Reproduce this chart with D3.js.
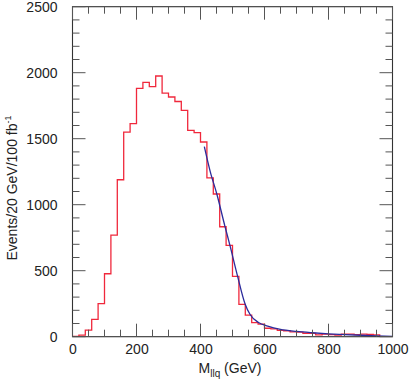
<!DOCTYPE html>
<html><head><meta charset="utf-8">
<script src="https://cdn.jsdelivr.net/npm/d3@7"></script>
<style>body{margin:0;background:#fff}svg{display:block}text{font-family:"Liberation Sans",Arial,sans-serif;fill:#222}</style>
</head><body><div id="chart"></div>
<script>
// bin lower edges (GeV), 20 GeV bins
const binEdges = d3.range(0, 1000, 20);
// histogram contents (events / 20 GeV / 100 fb^-1)
const histValues = [3, 12, 50, 131, 250, 477, 770, 1189, 1550, 1614,
  1881, 1927, 1894, 1975, 1846, 1816, 1782, 1715, 1563, 1546,
  1475, 1203, 1081, 833, 692, 457, 245, 164, 106, 96,
  64, 60, 48, 45, 36, 34, 26, 25, 14, 20,
  16, 12, 20, 20, 15, 20, 18, 14, 0, 0];
// fit curve
const fitX = [412, 430, 451, 476, 492, 516, 539, 555, 581, 610, 650, 700, 750, 800, 850, 900, 950, 1000];
const fitY = [1440, 1255, 1081, 840, 692, 457, 250, 168, 108, 80, 55, 40, 30, 22, 16, 11, 6, 3];
const xTicks = [0, 200, 400, 600, 800, 1000];
const yTicks = [0, 500, 1000, 1500, 2000, 2500];

const W = 409, H = 382;
const L = 72.5, R = 392.5, T = 6.7, B = 336.7;
const svg = d3.select("#chart").append("svg").attr("width", W).attr("height", H);
const x = d3.scaleLinear().domain([0, 1000]).range([L, R]);
const y = d3.scaleLinear().domain([0, 2500]).range([B, T]);

// histogram step path
const pts = binEdges.map((e, i) => [e, histValues[i]]);
pts.push([1000, histValues[histValues.length - 1]]);
const stepLine = d3.line().x(d => x(d[0])).y(d => y(d[1])).curve(d3.curveStepAfter);
svg.append("path").attr("d", stepLine(pts.slice(0, 49))).attr("fill", "none")
  .attr("stroke", "#f0283c").attr("stroke-width", 1.3);

// fit
const fitLine = d3.line().x(d => x(d[0])).y(d => y(d[1])).curve(d3.curveMonotoneX);
svg.append("path").attr("d", fitLine(fitX.map((v, i) => [v, fitY[i]]))).attr("fill", "none")
  .attr("stroke", "#2b2b9c").attr("stroke-width", 1.3);

// frame
svg.append("rect").attr("x", L).attr("y", T).attr("width", R - L).attr("height", B - T)
  .attr("fill", "none").attr("stroke", "#333").attr("stroke-width", 1.1);

const tickColor = "#555";
d3.range(0, 1001, 50).forEach(v => {
  const len = v % 200 === 0 ? 13 : 7;
  svg.append("line").attr("x1", x(v)).attr("x2", x(v)).attr("y1", B).attr("y2", B - len).attr("stroke", tickColor);
  svg.append("line").attr("x1", x(v)).attr("x2", x(v)).attr("y1", T).attr("y2", T + len).attr("stroke", tickColor);
});
d3.range(0, 2501, 100).forEach(v => {
  const len = v % 500 === 0 ? 13 : 7;
  svg.append("line").attr("y1", y(v)).attr("y2", y(v)).attr("x1", L).attr("x2", L + len).attr("stroke", tickColor);
  svg.append("line").attr("y1", y(v)).attr("y2", y(v)).attr("x1", R).attr("x2", R - len).attr("stroke", tickColor);
});

// tick labels
const fmt = d3.format("d");
const xAxis = d3.axisBottom(x).tickValues(xTicks).tickFormat(fmt).tickSize(0).tickPadding(0);
const gx = svg.append("g").attr("transform", `translate(0,${B + 4})`).call(xAxis);
gx.select(".domain").remove();
gx.selectAll("text").attr("font-size", 14).attr("dy", "0.95em").style("fill", "#222").style("font-family", '"Liberation Sans",Arial,sans-serif');
const yAxis = d3.axisLeft(y).tickValues(yTicks).tickFormat(fmt).tickSize(0).tickPadding(0);
const gy = svg.append("g").attr("transform", `translate(${L - 15},0)`).call(yAxis);
gy.select(".domain").remove();
gy.selectAll("text").attr("font-size", 14).style("fill", "#222").style("font-family", '"Liberation Sans",Arial,sans-serif');

// axis titles
const xt = svg.append("text").attr("x", 230).attr("y", 373).attr("text-anchor", "middle").attr("font-size", 14);
xt.append("tspan").text("M");
xt.append("tspan").text("llq").attr("font-size", 10).attr("dy", 4);
xt.append("tspan").text(" (GeV)").attr("dy", -4);

const yt = svg.append("text").attr("transform", "translate(17,188) rotate(-90)").attr("text-anchor", "middle").attr("font-size", 14);
yt.append("tspan").text("Events/20 GeV/100 fb");
yt.append("tspan").text("-1").attr("font-size", 9).attr("dy", -6);
</script></body></html>
